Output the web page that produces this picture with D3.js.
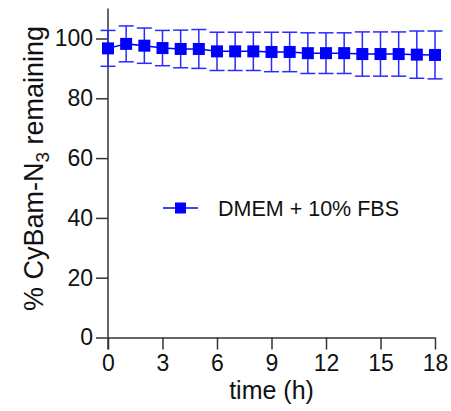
<!DOCTYPE html>
<html>
<head>
<meta charset="utf-8">
<script src="https://cdn.jsdelivr.net/npm/d3@7"></script>
<style>
  body { margin: 0; background: #fff; }
  text { font-family: "Liberation Sans", Arial, Helvetica, sans-serif; fill: #111; }
</style>
</head>
<body>
<svg id="chart" width="451" height="411"></svg>
<script>
var times = [0, 1, 2, 3, 4, 5, 6, 7, 8, 9, 10, 11, 12, 13, 14, 15, 16, 17, 18];
var remaining = [96.7, 98.2, 97.6, 96.8, 96.5, 96.5, 95.7, 95.7, 95.7, 95.5, 95.5, 95.1, 95.1, 95.1, 94.8, 94.8, 94.8, 94.6, 94.5];
var errors = [6.0, 6.0, 5.9, 5.9, 6.3, 6.5, 6.4, 6.4, 6.4, 6.6, 6.6, 6.8, 6.8, 6.8, 7.4, 7.4, 7.4, 7.9, 8.0];
var xTicks = [0, 3, 6, 9, 12, 15, 18];
var yTicks = [0, 20, 40, 60, 80, 100];
var seriesName = "DMEM + 10% FBS";

var blue = "#0000ff";
var svg = d3.select("#chart");

var x = d3.scaleLinear().domain([0, 18]).range([108, 435]);
var y = d3.scaleLinear().domain([0, 110]).range([337.5, 8.6]);

var data = times.map(function(t, i){
    return {t: t, v: remaining[i], e: errors[i]};
});

// axes
var xAxis = svg.append("g")
    .attr("transform", "translate(0," + y(0) + ")")
    .call(d3.axisBottom(x).tickValues(xTicks).tickSize(12).tickPadding(5).tickSizeOuter(0));
var yAxis = svg.append("g")
    .attr("transform", "translate(" + x(0) + ",0)")
    .call(d3.axisLeft(y).tickValues(yTicks).tickSize(12).tickPadding(3).tickSizeOuter(0));

[xAxis, yAxis].forEach(function(g){
    g.select(".domain").attr("stroke", "#333").attr("stroke-width", 1.5);
    g.selectAll(".tick line").attr("stroke", "#333").attr("stroke-width", 1.5);
    g.selectAll(".tick text").attr("fill", "#111")
        .style("font-size", "23px")
        .style("font-family", "'Liberation Sans', Arial, sans-serif");
});
// y axis runs a little below the x axis, as in the original
yAxis.select(".domain").attr("d", "M0," + y(110) + "V" + (y(0) + 12));

// error bars
var cap = 7.5;
var eb = svg.append("g").attr("stroke", "#2a2aff").attr("stroke-width", 1.5).attr("fill", "none");
data.forEach(function(d){
    var cx = x(d.t);
    eb.append("line").attr("x1", cx).attr("x2", cx).attr("y1", y(d.v + d.e)).attr("y2", y(d.v - d.e));
    eb.append("line").attr("x1", cx - cap).attr("x2", cx + cap).attr("y1", y(d.v + d.e)).attr("y2", y(d.v + d.e));
    eb.append("line").attr("x1", cx - cap).attr("x2", cx + cap).attr("y1", y(d.v - d.e)).attr("y2", y(d.v - d.e));
});

// connecting line
svg.append("path")
    .datum(data)
    .attr("fill", "none")
    .attr("stroke", blue)
    .attr("stroke-width", 1.5)
    .attr("d", d3.line().x(function(d){ return x(d.t); }).y(function(d){ return y(d.v); }));

// square markers
var sq = 12;
svg.append("g").selectAll("rect")
    .data(data)
    .join("rect")
    .attr("x", function(d){ return x(d.t) - sq / 2; })
    .attr("y", function(d){ return y(d.v) - sq / 2; })
    .attr("width", sq)
    .attr("height", sq)
    .attr("fill", blue);

// legend
var lg = svg.append("g").attr("transform", "translate(163,208)");
lg.append("line").attr("x1", 0).attr("x2", 35).attr("y1", 0).attr("y2", 0)
    .attr("stroke", blue).attr("stroke-width", 1.5);
lg.append("rect").attr("x", 17.5 - 5.5).attr("y", -5.5).attr("width", 11).attr("height", 11).attr("fill", blue);
lg.append("text").attr("x", 55).attr("y", 8).attr("font-size", 21.5).text(seriesName);

// axis titles
svg.append("text")
    .attr("x", (x(0) + x(18)) / 2)
    .attr("y", 399)
    .attr("text-anchor", "middle")
    .attr("font-size", 25)
    .text("time (h)");

var yt = svg.append("text")
    .attr("transform", "translate(43,168.5) rotate(-90)")
    .attr("text-anchor", "middle")
    .attr("font-size", 27);
yt.append("tspan").text("% CyBam-N");
yt.append("tspan").attr("font-size", 19).attr("dy", 6).text("3");
yt.append("tspan").attr("dy", -6).text(" remaining");
</script>
</body>
</html>
